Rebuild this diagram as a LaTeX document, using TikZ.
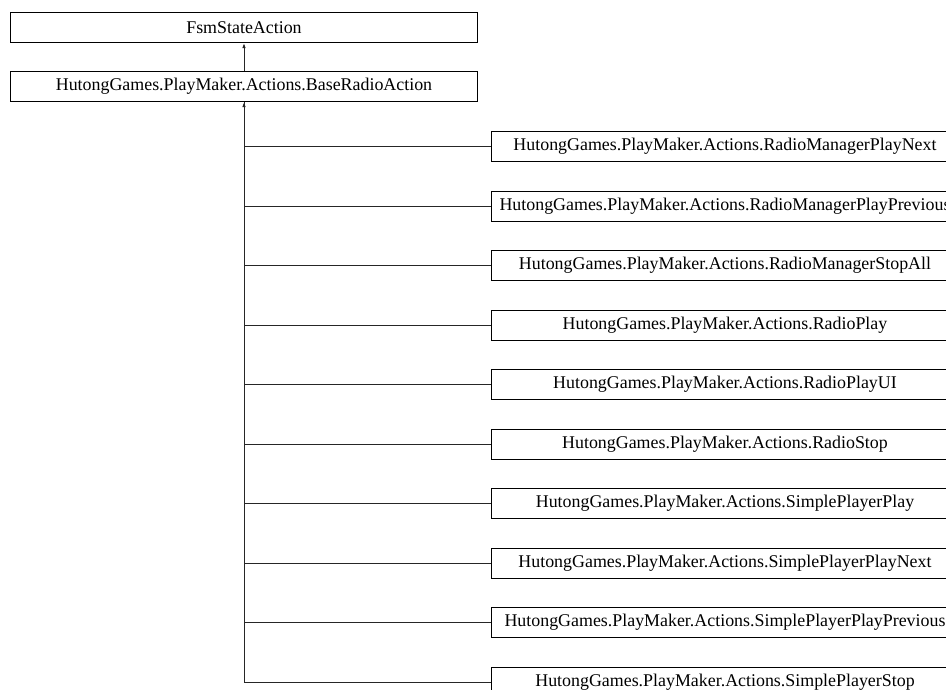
\documentclass[tikz,border=0pt]{standalone}
\usepackage{fontspec}
\setmainfont{Liberation Serif}
\usetikzlibrary{arrows.meta}
\begin{document}
\begin{tikzpicture}[x=1pt,y=-1pt,
  cls/.style={draw, line width=1pt, minimum height=30pt, minimum width=467pt,
    font=\fontsize{17.9}{20}\selectfont, inner sep=0pt, anchor=north west},
  link/.style={line width=1pt, draw=black!85},
  arr/.style={link, -{Latex[length=5pt,width=3.5pt]}}]
\useasboundingbox (0,0) rectangle (946,689);
\clip (0,0) rectangle (946,689);
\node[cls] (fsm) at (10,12) {FsmStateAction};
\node[cls] (base) at (10,71) {HutongGames.PlayMaker.Actions.BaseRadioAction};
\foreach \t [count=\i from 0] in {RadioManagerPlayNext,RadioManagerPlayPrevious,RadioManagerStopAll,RadioPlay,RadioPlayUI,RadioStop,SimplePlayerPlay,SimplePlayerPlayNext,SimplePlayerPlayPrevious,SimplePlayerStop}{
  \node[cls] (c\i) at (491,{131+59.5*\i}) {HutongGames.PlayMaker.Actions.\t};
  \draw[link] (c\i.west) -| (base.south);
}
\draw[arr] (c0.west) -| (base.south);
\draw[arr] (base.north) -- (fsm.south);
\end{tikzpicture}
\end{document}
